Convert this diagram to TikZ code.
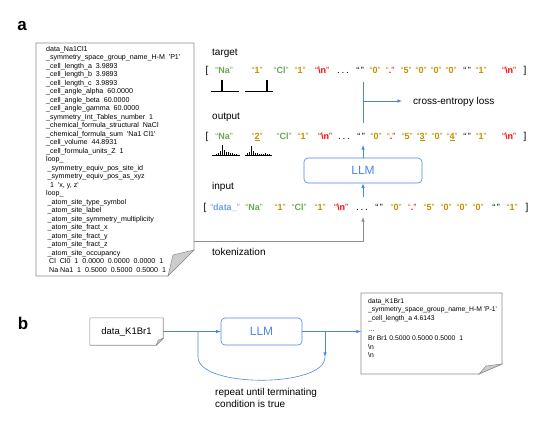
\documentclass[tikz,border=0pt]{standalone}
\usepackage{fontspec}
\setmainfont{Liberation Sans}
\usepackage{xcolor}
\usepackage{tikz}
\usetikzlibrary{arrows.meta}

\definecolor{llmblue}{HTML}{4A86E8}
\definecolor{datablue}{HTML}{6D9EEB}
\definecolor{tokgreen}{HTML}{6AA84F}
\definecolor{tokgold}{HTML}{BF9000}
\definecolor{tokred}{HTML}{FF0000}
\definecolor{docgray}{HTML}{8C8C8C}
\definecolor{foldgray}{HTML}{CCCCCC}

\newcommand{\qt}{\textquotesingle}
\newcommand{\bsn}{\textbackslash n}
\newcommand{\qtok}[1]{{\mdseries “}#1{\mdseries ”}}

\tikzset{
  tok/.style={anchor=base, inner sep=0pt, font=\fontsize{9}{11}\selectfont\bfseries},
  brk/.style={anchor=base, inner sep=0pt, font=\fontsize{10}{12}\selectfont},
  lbl/.style={anchor=base west, inner sep=0pt, font=\fontsize{10}{12}\selectfont},
  doc/.style={anchor=north west, inner sep=0pt, align=left, font=\fontsize{7.1}{8.5}\selectfont},
  llm/.style={draw=llmblue, rounded corners=4pt, text=llmblue, line width=0.6pt, font=\fontsize{12}{14}\selectfont},
  flow/.style={draw=llmblue, line width=0.6pt},
  paper/.style={draw=docgray, line width=0.6pt, fill=white},
  fold/.style={draw=docgray, line width=0.5pt, fill=foldgray},
  bar/.style={line width=1.2pt},
}

\begin{document}
\begin{tikzpicture}[x=1pt,y=-1pt]
\useasboundingbox (0,0) rectangle (553,421);

% panel a
\node[anchor=base, inner sep=0pt, font=\fontsize{17}{19}\selectfont\bfseries] (la) at (22,30) {a};

% cif file
\draw[paper] (36,43) -- (194,43) -- (194,250) -- (168,276) -- (36,276) -- cycle;
\draw[fold] (194,250) -- (168,276) -- (173,255) -- cycle;
\node[doc] (cifa) at (46,46) {data\_Na1Cl1\\
\_symmetry\_space\_group\_name\_H-M\ \ \qt P1\qt\\
\_cell\_length\_a\ \ 3.9893\\
\_cell\_length\_b\ \ 3.9893\\
\_cell\_length\_c\ \ 3.9893\\
\_cell\_angle\_alpha\ \ 60.0000\\
\_cell\_angle\_beta\ \ 60.0000\\
\_cell\_angle\_gamma\ \ 60.0000\\
\_symmetry\_Int\_Tables\_number\ \ 1\\
\_chemical\_formula\_structural\ \ NaCl\\
\_chemical\_formula\_sum\ \ \qt Na1 Cl1\qt\\
\_cell\_volume\ \ 44.8931\\
\_cell\_formula\_units\_Z\ \ 1\\
loop\_\\
\hspace{1.5pt}\_symmetry\_equiv\_pos\_site\_id\\
\hspace{1.5pt}\_symmetry\_equiv\_pos\_as\_xyz\\
\hspace{4pt}1\ \ \qt x, y, z\qt\\
loop\_\\
\hspace{1.5pt}\_atom\_site\_type\_symbol\\
\hspace{1.5pt}\_atom\_site\_label\\
\hspace{1.5pt}\_atom\_site\_symmetry\_multiplicity\\
\hspace{1.5pt}\_atom\_site\_fract\_x\\
\hspace{1.5pt}\_atom\_site\_fract\_y\\
\hspace{1.5pt}\_atom\_site\_fract\_z\\
\hspace{1.5pt}\_atom\_site\_occupancy\\
\hspace{3pt}Cl\ \ Cl0\ \ 1\ \ 0.0000\ \ 0.0000\ \ 0.0000\ \ 1\\
\hspace{3pt}Na\ Na1\ \ 1\ \ 0.5000\ \ 0.5000\ \ 0.5000\ \ 1};

% target
\node[lbl] (ltarget) at (212,55) {target};
\node[brk] (tgtl) at (207,73) {[};
\foreach \x/\t/\c in {224/{\qtok{Na}}/tokgreen, 257/{\qtok{1}}/tokgold, 281/{\qtok{Cl}}/tokgreen,
  300/{\qtok{1}}/tokgold, 322/{\qtok{\bsn}}/tokred, 360/{\qtok{\,}}/black, 375/{\qtok{0}}/tokgold,
  390/{\qtok{\color{tokred}.}}/tokgold, 406/{\qtok{5}}/tokgold, 421/{\qtok{0}}/tokgold,
  436/{\qtok{0}}/tokgold, 451/{\qtok{0}}/tokgold, 467/{\qtok{\,}}/black, 481/{\qtok{1}}/tokgold,
  509/{\qtok{\bsn}}/tokred}
  \node[tok,text=\c] (tgt\x) at (\x,73) {\t};
\node[brk] (tgtd) at (343,73) {.\,.\,.};
\node[brk] (tgtr) at (525,73) {]};

\draw (211,91) -- (239,91);
\draw[bar] (222,91) -- (222,80);
\draw (245,91) -- (273,91);
\draw[bar] (267,91) -- (267,80);

% output
\node[lbl] (loutput) at (212,119) {output};
\node[brk] (outl) at (207,139) {[};
\foreach \x/\t/\c in {224/{\qtok{Na}}/tokgreen, 257/{\qtok{\underline{2}}}/tokgold, 284/{\qtok{Cl}}/tokgreen,
  303/{\qtok{1}}/tokgold, 325/{\qtok{\bsn}}/tokred, 361/{\qtok{\,}}/black, 376/{\qtok{0}}/tokgold,
  391/{\qtok{\color{tokred}.}}/tokgold, 407/{\qtok{5}}/tokgold, 422/{\qtok{\underline{3}}}/tokgold,
  437/{\qtok{0}}/tokgold, 452/{\qtok{\underline{4}}}/tokgold, 467/{\qtok{\,}}/black, 481/{\qtok{1}}/tokgold,
  509/{\qtok{\bsn}}/tokred}
  \node[tok,text=\c] (out\x) at (\x,139) {\t};
\node[brk] (outd) at (344,139) {.\,.\,.};
\node[brk] (outr) at (525,139) {]};

\draw (212,155) -- (240,155);
\foreach \dx/\h in {4/1.5, 6/2.5, 8/4, 10/10, 12/5, 14/3, 16/3.5, 18/2, 20/2, 22/1.5, 24/1}
  \draw[bar,line width=1pt] (212+\dx,155) -- ++(0,-\h);
\draw (245,155) -- (272,155);
\foreach \dx/\h in {2/2, 4/3, 6/9, 8/4, 10/2, 12/2, 14/1.5, 16/1.5, 18/1.5, 20/2.5, 22/1.5, 24/1}
  \draw[bar,line width=1pt] (245+\dx,155) -- ++(0,-\h);

% input
\node[lbl] (linput) at (212,189) {input};
\node[brk] (inl) at (205,210) {[};
\foreach \x/\t/\c in {225/{\qtok{data\_}}/datablue, 254/{\qtok{Na}}/tokgreen, 280/{\qtok{1}}/tokgold,
  299/{\qtok{Cl}}/tokgreen, 320/{\qtok{1}}/tokgold, 341/{\qtok{\bsn}}/tokred, 379/{\qtok{\,}}/black,
  396/{\qtok{0}}/tokgold, 412/{\qtok{\color{tokred}.}}/tokgold, 429/{\qtok{5}}/tokgold,
  446/{\qtok{0}}/tokgold, 462/{\qtok{0}}/tokgold, 478/{\qtok{0}}/tokgold, 496/{\qtok{\,}}/black,
  512/{\qtok{1}}/tokgold}
  \node[tok,text=\c] (in\x) at (\x,210) {\t};
\node[brk] (ind) at (362,210) {.\,.\,.};
\node[brk] (inr) at (527,210) {]};

% model and loss
\node[llm, minimum width=118, minimum height=25] (llma) at (363,170.5) {LLM};
\coordinate (tgtbot) at (363,82);
\coordinate (outtop) at (363,123);
\coordinate (outbot) at (363,145);
\coordinate (inptop) at (363,197);
\coordinate (lossc) at (363,101);
\coordinate (lossend) at (402,101);
\node[lbl] (lloss) at (413,104) {cross-entropy loss};
\draw[flow] (tgtbot) -- (outtop);
\draw[flow,-latex] (lossc) -- (lossend);
\draw[flow,-latex] (llma.north) -- (outbot);
\draw[flow,-latex] (inptop) -- (llma.south);

% tokenization
\coordinate (cifr) at (194,241);
\coordinate (tokc) at (363,241);
\coordinate (inbot) at (363,217);
\draw[docgray,line width=0.6pt,-latex] (cifr) -- (tokc) -- (inbot);
\node[lbl] (ltok) at (212,255) {tokenization};

% panel b
\node[anchor=base, inner sep=0pt, font=\fontsize{17}{19}\selectfont\bfseries] (lb) at (23,329) {b};

\node[inner sep=0pt, minimum width=73, minimum height=27, font=\fontsize{9.5}{11}\selectfont] (seed) at (126.5,331.5) {data\_K1Br1};
\draw[paper,fill=none] (seed.north west) -- (seed.north east) -- ([yshift=7pt]seed.south east)
  -- ([xshift=-7pt]seed.south east) -- (seed.south west) -- cycle;
\draw[fold] ([yshift=7pt]seed.south east) -- ([xshift=-7pt]seed.south east) -- ([xshift=-5pt,yshift=5pt]seed.south east) -- cycle;

\node[llm, minimum width=81, minimum height=27] (llmb) at (261.5,331.5) {LLM};

\draw[paper] (361,293) -- (502,293) -- (502,364) -- (479,374) -- (361,374) -- cycle;
\draw[fold] (502,364) -- (479,374) -- (486,366) -- cycle;
\node[doc, font=\fontsize{6.8}{8.6}\selectfont] (gen) at (368,298) {data\_K1Br1\\
\_symmetry\_space\_group\_name\_H-M \qt P-1\qt\\
\_cell\_length\_a 4.6143\\[3pt]
\ldots\\
Br Br1 0.5000 0.5000 0.5000\ \ 1\\
\textbackslash n\\
\textbackslash n};

\coordinate (genin) at (361,331.5);
\coordinate (loopl) at (198,331.5);
\coordinate (loopr) at (325,331.5);
\coordinate (loopend) at (325,357);
\draw[flow,-latex] (seed.east) -- (llmb.west);
\draw[flow,-latex] (llmb.east) -- (genin);
\draw[flow,-latex] (loopr) -- (loopend);
\draw[flow] (loopl) -- (198,357) .. controls (198,388) and (325,388) .. (loopend);

\node[lbl, align=left, anchor=north west] (lrepeat) at (215,388) {repeat until terminating\\condition is true};
\end{tikzpicture}
\end{document}
